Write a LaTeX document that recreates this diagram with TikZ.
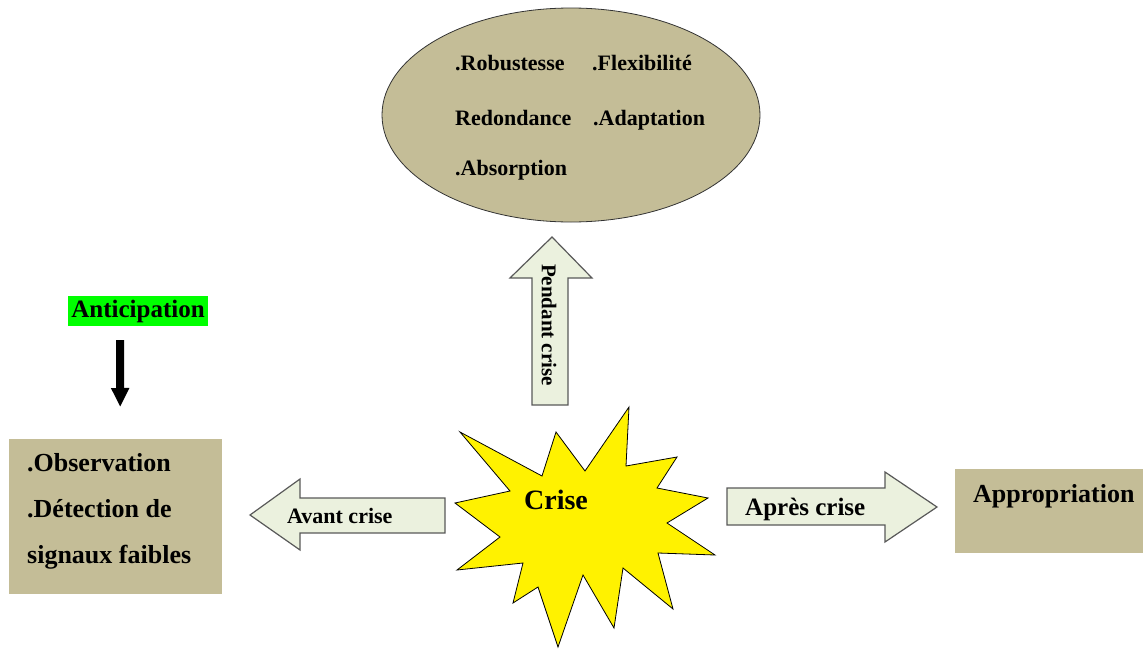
\documentclass[tikz,border=0pt]{standalone}
\usepackage{fontspec}
\setmainfont{Liberation Serif}
\usepackage{tikz}
\usetikzlibrary{arrows.meta}
\usetikzlibrary{shapes.geometric}

\definecolor{boxtan}{HTML}{C4BD97}
\definecolor{arrowfill}{HTML}{EBF1DE}
\definecolor{arrowline}{HTML}{595959}

\begin{document}
\begin{tikzpicture}[x=1pt,y=-1pt,
		tanbox/.style={fill=boxtan,draw=none,inner sep=0pt},
		txt/.style={anchor=base west,inner sep=0pt,font=\bfseries\fontsize{#1}{#1}\selectfont},
		blockarrow/.style={fill=arrowfill,draw=arrowline,line width=1.2pt,line join=miter}]
			\useasboundingbox (0,0) rectangle (1143,648);
			
			\node[ellipse,draw=black!80,line width=0.8pt,fill=boxtan,minimum width=378,minimum height=214] (qual) at (571,115) {};
			\node[txt=22] (rob) at (455,70) {.Robustesse};
			\node[txt=22] (flex) at (592,70) {.Flexibilité};
			\node[txt=22] (red) at (455,125) {Redondance};
			\node[txt=22] (adap) at (593,125) {.Adaptation};
			\node[txt=22] (abs) at (455,175) {.Absorption};
			
			\draw[blockarrow] (532,405) -- (532,278) -- (510,278) -- (552,237) -- (592,278) -- (568,278) -- (568,405) -- cycle;
			\node[font=\bfseries\fontsize{21}{21}\selectfont,inner sep=0pt,rotate=-90] (pendant) at (549,325) {Pendant crise};
			
			\draw[fill=yellow,draw=black,line width=0.8pt] (460,432) -- (542,476) -- (556,432) -- (585,471) -- (629,407) -- (626,466) -- (677,457) -- (657,488) -- (708,498) -- (667,523) -- (715,555) -- (658,553) -- (673,609) -- (623,568) -- (614,628) -- (583,575) -- (558,647) -- (538,587) -- (513,603) -- (523,563) -- (457,570) -- (500,537) -- (455,503) -- (510,491) -- cycle;
			\node[font=\bfseries\fontsize{28}{28}\selectfont,inner sep=0pt] (crise) at (556,500) {Crise};
			
			\draw[blockarrow] (445,498) -- (300,498) -- (300,479) -- (250,515) -- (300,550) -- (300,533) -- (445,533) -- cycle;
			\node[txt=22] (avant) at (287,523) {Avant crise};
			
			\draw[blockarrow] (727,488) -- (885,488) -- (885,472) -- (937,507) -- (885,542) -- (885,525) -- (727,525) -- cycle;
			\node[txt=25] (apres) at (745,515) {Après crise};
			
			\node[tanbox,minimum width=188,minimum height=84,anchor=north west] (appr) at (955,469) {};
			\node[txt=26] (approp) at (973,502) {Appropriation};
			
			\node[fill=green,inner xsep=3pt,inner ysep=0pt,minimum height=30,font=\bfseries\fontsize{25}{25}\selectfont] (antic) at (138,311) {Anticipation};
			
			\node[tanbox,minimum width=213,minimum height=155,anchor=north west] (obs) at (9,439) {};
			\node[anchor=west,inner sep=0pt,align=left,font=\bfseries\fontsize{26}{46}\selectfont] (obstxt) at (27,511) {.Observation\\.Détection de\\signaux faibles};
			
			\draw[line width=8pt,-{Triangle[width=17pt,length=19pt]}] ([xshift=-18pt,yshift=-14pt]antic.south) -- ([xshift=4.5pt,yshift=32pt]obs.north);
		\end{tikzpicture}
\end{document}
